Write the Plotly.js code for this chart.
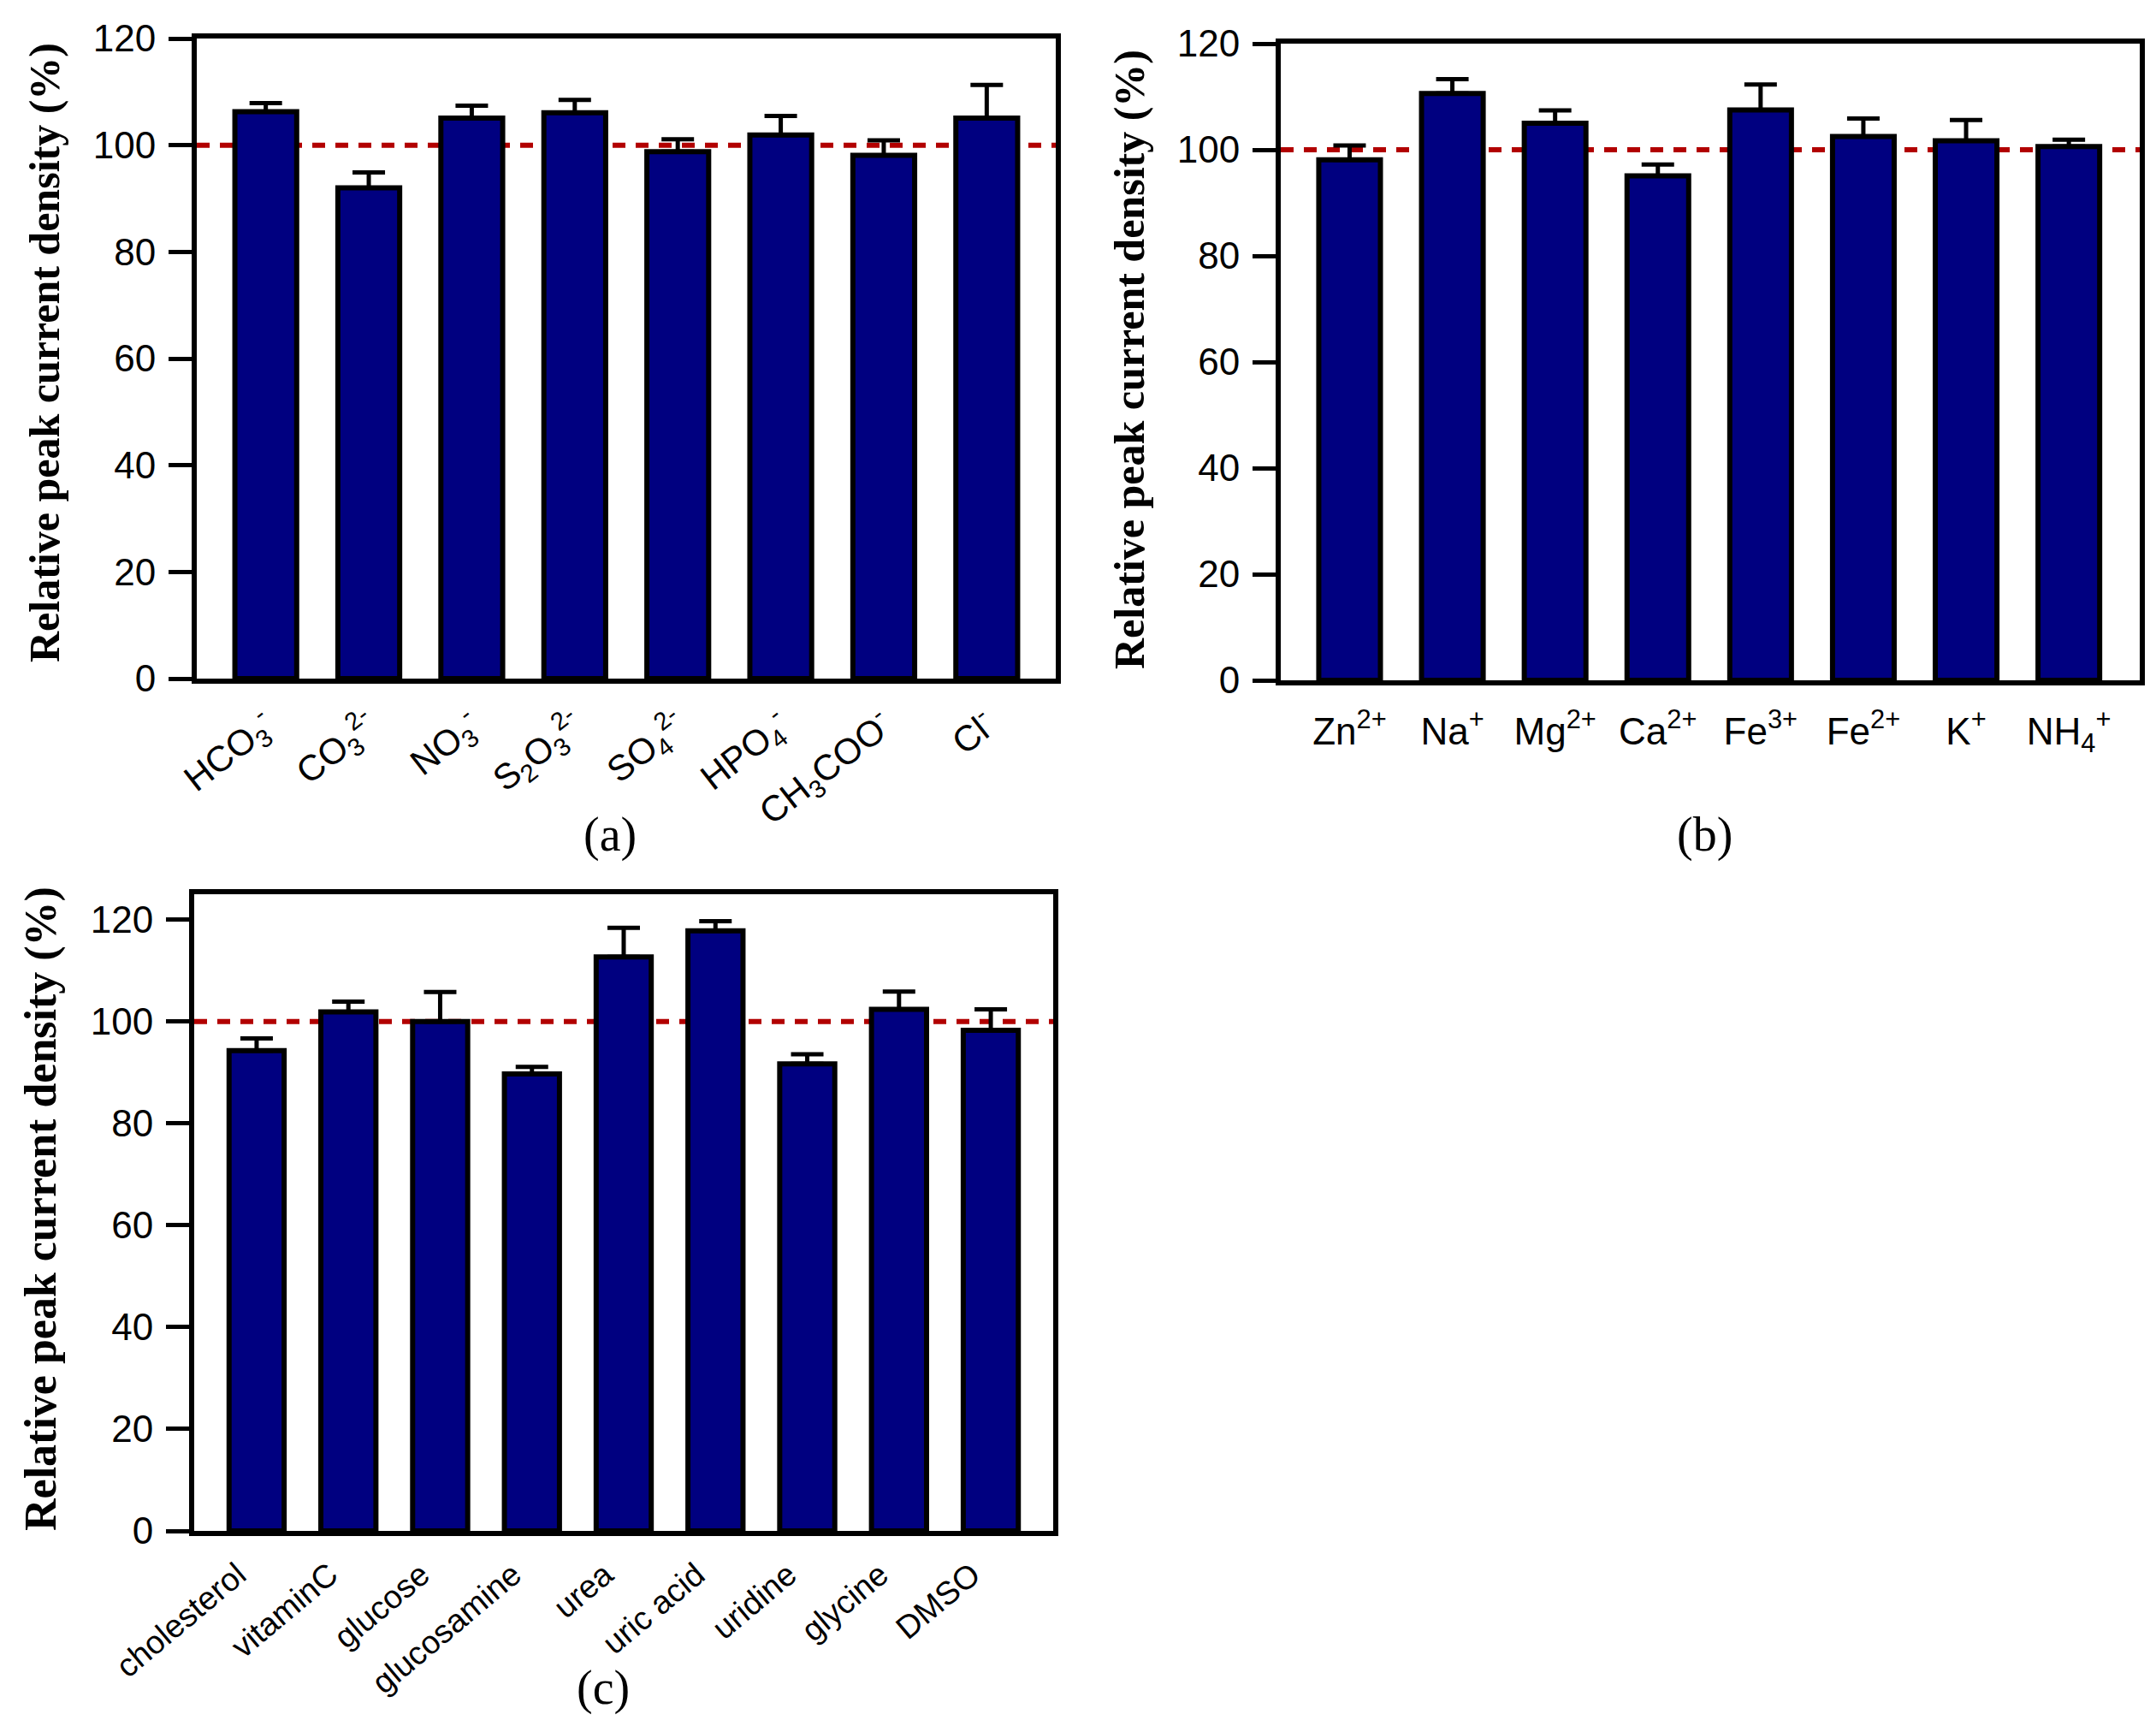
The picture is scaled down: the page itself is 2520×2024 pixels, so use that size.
<!DOCTYPE html>
<html><head><meta charset="utf-8">
<script src="https://cdn.plot.ly/plotly-3.0.1.min.js"></script>
<style>html,body{margin:0;padding:0;background:#fff}</style>
</head><body><div id="chart" style="width:2520px;height:2024px"></div>
<script>
// Panel (a): anions
const anionLabels = ['HCO<sub>3</sub><sup>-</sup>', 'CO<sub>3</sub><sup>2-</sup>', 'NO<sub>3</sub><sup>-</sup>', 'S<sub>2</sub>O<sub>3</sub><sup>2-</sup>', 'SO<sub>4</sub><sup>2-</sup>', 'HPO<sub>4</sub><sup>-</sup>', 'CH<sub>3</sub>COO<sup>-</sup>', 'Cl<sup>-</sup>'];
const anionValues = [106.3, 92.0, 105.1, 106.1, 98.8, 101.9, 98.1, 105.1];
const anionErrors = [1.6, 2.9, 2.3, 2.4, 2.3, 3.6, 2.8, 6.2];
// Panel (b): cations
const cationLabels = ['Zn<sup>2+</sup>', 'Na<sup>+</sup>', 'Mg<sup>2+</sup>', 'Ca<sup>2+</sup>', 'Fe<sup>3+</sup>', 'Fe<sup>2+</sup>', 'K<sup>+</sup>', 'NH<sub>4</sub><sup>+</sup>'];
const cationValues = [98.1, 110.6, 105.0, 95.1, 107.5, 102.5, 101.7, 100.6];
const cationErrors = [2.7, 2.7, 2.4, 2.1, 4.8, 3.4, 3.9, 1.3];
// Panel (c): organic species
const organicLabels = ['cholesterol', 'vitaminC', 'glucose', 'glucosamine', 'urea', 'uric acid', 'uridine', 'glycine', 'DMSO'];
const organicValues = [94.3, 101.9, 100.0, 89.7, 112.7, 117.8, 91.7, 102.4, 98.3];
const organicErrors = [2.4, 2.0, 5.8, 1.4, 5.7, 1.9, 1.9, 3.5, 4.1];
const yTitle = 'Relative peak current density (%)';
const referenceLevel = 100;

const W = 2520, H = 2024;
const sans = 'Liberation Sans, Arial, sans-serif';
const serif = 'Liberation Serif, Times New Roman, serif';
const barColor = '#000080';

function barTrace(labels, values, errors, xa, ya) {
  return {
    type: 'bar', x: labels, y: values, xaxis: xa, yaxis: ya, width: 0.6,
    marker: {color: barColor, line: {color: '#000', width: 6}},
    error_y: {type: 'data', symmetric: false, array: errors, arrayminus: errors.map(() => 0),
              color: '#000', thickness: 5, width: 19},
    hoverinfo: 'skip', showlegend: false
  };
}
function xAx(l, r, range, angle, fsize, shift) {
  return {domain: [l / W, r / W], range: range, type: 'category', showline: true, linewidth: 6,
    linecolor: '#000', mirror: true, ticks: '', tickangle: angle, showgrid: false, zeroline: false,
    automargin: false, ticklabelstandoff: angle === 0 ? 16 : 8, ticklabelshift: shift,
    tickfont: {family: sans, size: fsize, color: '#000'}};
}
function yAx(top, bottom, range) {
  return {domain: [1 - bottom / H, 1 - top / H], range: range, tickvals: [0, 20, 40, 60, 80, 100, 120],
    ticks: 'outside', ticklen: 27, tickwidth: 5, tickcolor: '#000', showline: true, linewidth: 6,
    linecolor: '#000', mirror: true, showgrid: false, zeroline: false, automargin: false,
    ticklabelstandoff: 6, tickfont: {family: sans, size: 44, color: '#000'}};
}
function refLine(xr, yr) {
  return {type: 'line', xref: xr + ' domain', yref: yr, x0: 0, x1: 1, y0: referenceLevel, y1: referenceLevel,
    layer: 'below', line: {color: '#B20000', width: 6, dash: '15px,12px'}};
}
function ann(text, x, y, size, bold, angle) {
  return {text: bold ? '<b>' + text + '</b>' : text, xref: 'paper', yref: 'paper', x: x / W, y: 1 - y / H,
    xanchor: 'center', yanchor: 'middle', showarrow: false, textangle: angle || 0,
    font: {family: serif, size: size, color: '#000'}};
}

const data = [
  barTrace(anionLabels, anionValues, anionErrors, 'x', 'y'),
  barTrace(cationLabels, cationValues, cationErrors, 'x2', 'y2'),
  barTrace(organicLabels, organicValues, organicErrors, 'x3', 'y3')
];

const layout = {
  width: W, height: H, margin: {l: 0, r: 0, t: 0, b: 0},
  paper_bgcolor: '#fff', plot_bgcolor: '#fff',
  xaxis: Object.assign(xAx(230, 1234, [-0.67, 7.67], -38, 42, 0), {anchor: 'y'}),
  yaxis: Object.assign(yAx(45, 793, [0, 120]), {anchor: 'x'}),
  xaxis2: Object.assign(xAx(1497, 2501, [-0.67, 7.69], 0, 44, 0), {anchor: 'y2'}),
  yaxis2: Object.assign(yAx(51, 795, [0, 120]), {anchor: 'x2'}),
  xaxis3: Object.assign(xAx(227, 1231, [-0.68, 8.68], -40, 38, -22), {anchor: 'y3'}),
  yaxis3: Object.assign(yAx(1045, 1789, [0, 125]), {anchor: 'x3'}),
  shapes: [refLine('x', 'y'), refLine('x2', 'y2'), refLine('x3', 'y3')],
  annotations: [
    ann(yTitle, 52, 412, 50, true, -90),
    ann(yTitle, 1320, 420, 50, true, -90),
    ann(yTitle, 48, 1413, 52, true, -90),
    ann('(a)', 713, 975, 56, false),
    ann('(b)', 1992, 975, 56, false),
    ann('(c)', 705, 1972, 56, false)
  ],
  bargap: 0.4
};

Plotly.newPlot('chart', data, layout, {staticPlot: true, displayModeBar: false});
</script>
</body></html>
